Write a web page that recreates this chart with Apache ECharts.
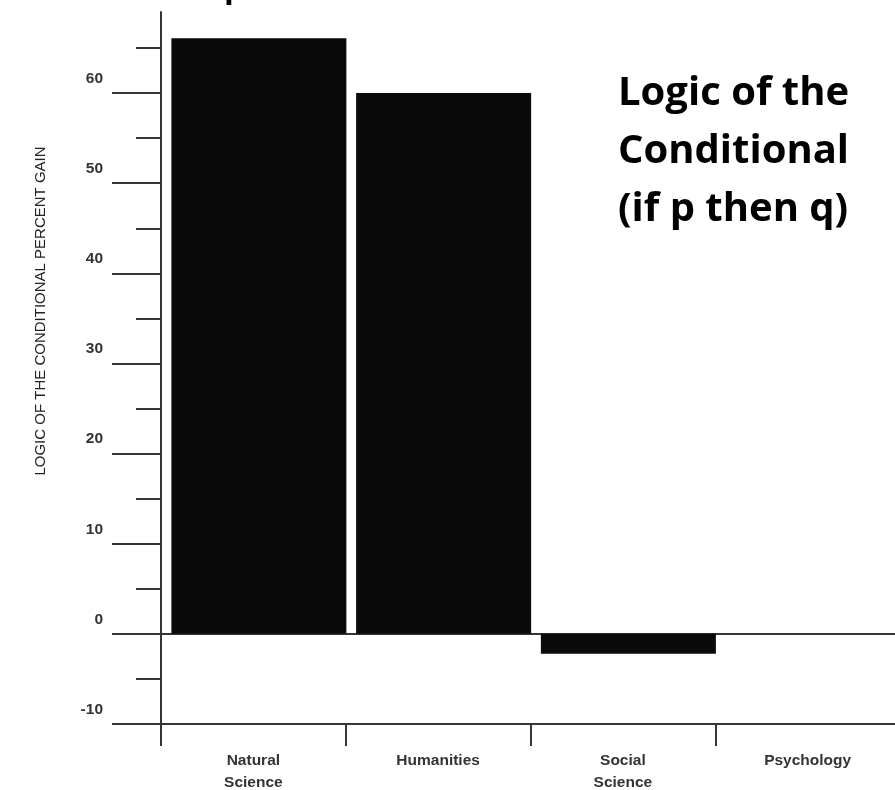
<!DOCTYPE html>
<html><head><meta charset="utf-8">
<script src="https://cdn.jsdelivr.net/npm/echarts@6/dist/echarts.min.js"></script>
<style>html,body{margin:0;padding:0;background:#fff;overflow:hidden}#chart{width:895px;height:790px}</style>
</head><body><div id="chart"></div>
<script>
const categories = ['Natural\nScience', 'Humanities', 'Social\nScience', 'Psychology'];
const gainValues = [66.1, 60, -2.2, 0];
const majorTicks = [-10, 0, 10, 20, 30, 40, 50, 60];
const minorTicks = [-5, 5, 15, 25, 35, 45, 55, 65];
const yMin = -10, yMax = 69;
const yTitle = 'LOGIC OF THE CONDITIONAL PERCENT GAIN';
const sideTitle = 'Logic of the\nConditional\n(if p then q)';
const topFragment = 'p';

const lineColor = '#363636';
const labelFont = "'Liberation Sans', Arial, sans-serif";

const chart = echarts.init(document.getElementById('chart'), null, {renderer: 'canvas'});
chart.setOption({
  backgroundColor: '#fff',
  animation: false,
  title: {
    text: sideTitle, left: 618, top: 65, padding: 0,
    textStyle: {fontFamily: "'Open Sans', sans-serif", fontWeight: 'bold', fontSize: 40, lineHeight: 58, color: '#000'}
  },
  graphic: [
    {type: 'text', x: 40.5, y: 311, rotation: Math.PI / 2,
     style: {text: yTitle, fill: '#222', font: "15px 'Liberation Sans', Arial, sans-serif", align: 'center', verticalAlign: 'middle'}},
    {type: 'text', x: 224, y: -12, silent: true,
     style: {text: topFragment, fill: '#000', font: "bold 32px 'Open Sans', sans-serif", align: 'left', verticalAlign: 'middle'}}
  ],
  grid: [
    {left: 161, width: 739, top: 12, bottom: 66, containLabel: false, outerBoundsMode: 'none'},
    {left: 166.5, width: 739, top: 12, bottom: 66, containLabel: false, outerBoundsMode: 'none'}
  ],
  xAxis: [
    {gridIndex: 0, type: 'category', data: categories, position: 'bottom',
     axisLine: {onZero: false, lineStyle: {color: lineColor, width: 2}},
     axisTick: {show: true, length: 22, alignWithLabel: false, lineStyle: {color: lineColor, width: 2}},
     axisLabel: {margin: 26, fontFamily: labelFont, fontWeight: 'bold', fontSize: 15.5, lineHeight: 22, color: '#333', interval: 0},
     splitLine: {show: false}},
    {gridIndex: 0, type: 'category', data: categories, position: 'bottom',
     axisLine: {onZero: true, onZeroAxisIndex: 0, lineStyle: {color: lineColor, width: 2}},
     axisTick: {show: false}, axisLabel: {show: false}, splitLine: {show: false}},
    {gridIndex: 1, type: 'category', data: categories, show: false}
  ],
  yAxis: [
    {gridIndex: 0, type: 'value', min: yMin, max: yMax, position: 'left',
     axisLine: {show: true, onZero: false, lineStyle: {color: lineColor, width: 2}},
     axisTick: {show: true, customValues: majorTicks, length: 49, lineStyle: {color: lineColor, width: 2}},
     axisLabel: {show: true, customValues: majorTicks, margin: 58, verticalAlign: 'bottom', lineHeight: 29,
                 fontFamily: labelFont, fontWeight: 'bold', fontSize: 15.5, color: '#333'},
     splitLine: {show: false}},
    {gridIndex: 0, type: 'value', min: yMin, max: yMax, position: 'left',
     axisLine: {show: false, onZero: false},
     axisTick: {show: true, customValues: minorTicks, length: 25, lineStyle: {color: lineColor, width: 2}},
     axisLabel: {show: false}, splitLine: {show: false}},
    {gridIndex: 1, type: 'value', min: yMin, max: yMax, show: false, splitLine: {show: false}}
  ],
  series: [
    {type: 'bar', xAxisIndex: 2, yAxisIndex: 2, data: gainValues, barWidth: 175,
     itemStyle: {color: '#0a0a0a'}, silent: true}
  ]
});
</script></body></html>
